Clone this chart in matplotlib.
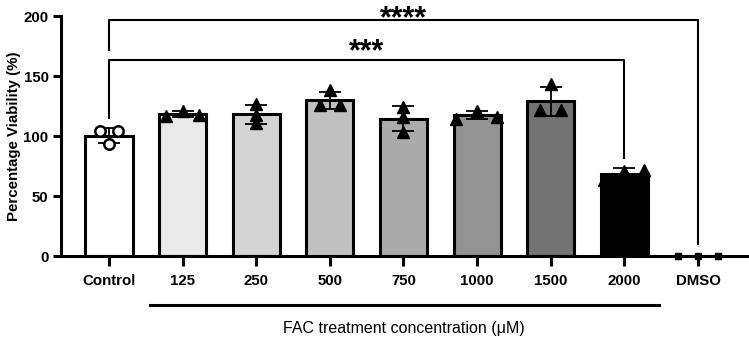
import numpy as np
import matplotlib
matplotlib.use("Agg")
import matplotlib.pyplot as plt

plt.rcParams["font.family"] = ["Liberation Sans", "DejaVu Sans"]

# groups and replicate values (% viability)
groups = ["Control", "125", "250", "500", "750", "1000", "1500", "2000", "DMSO"]
reps = [
    [104, 104, 93],
    [116.5, 121, 117.5],
    [126.5, 117.5, 110.5],
    [138, 125.5, 126],
    [124, 115.5, 103.6],
    [114.5, 121, 116],
    [143, 121.7, 122],
    [63, 70.5, 71.5],
    [0, 0, 0],
]
# horizontal scatter of replicate points within each bar
spread = [
    [-0.12, 0.12, 0],
    [-0.22, 0, 0.22],
    [0, 0, 0],
    [0, -0.14, 0.14],
    [0, 0, 0],
    [-0.28, 0, 0.27],
    [0, -0.14, 0.14],
    [-0.27, 0, 0.27],
    [-0.27, 0, 0.27],
]
fills = ["white", "#e9e9e9", "#d4d4d4", "#c0c0c0", "#ababab",
         "#939393", "#737373", "black", "white"]

# significance brackets: (left group, right group, height, left end, right end, label)
brackets = [
    (0, 8, 197, 172, 10, "****"),
    (0, 7, 163, 115, 82, "***"),
]
star_y = [191, 163.5]

x = np.arange(len(groups))
means = np.array([np.mean(r) for r in reps])
sds = np.array([np.std(r, ddof=1) for r in reps])

fig = plt.figure(figsize=(7.49, 3.38), dpi=100)
ax = fig.add_axes([61 / 749, 82 / 338, 687 / 749, 240 / 338])

ax.bar(x, means, width=0.64, color=fills, edgecolor="black",
       linewidth=2.2, zorder=2)
ax.errorbar(x, means, yerr=sds, fmt="none", ecolor="black",
            elinewidth=1.3, capsize=8, capthick=1.3, zorder=3)

for i, (r, dx) in enumerate(zip(reps, spread)):
    xs = x[i] + np.array(dx)
    if i == 0:
        ax.plot(xs, r, "o", ms=7.5, mfc="white", mec="black", mew=1.8,
                zorder=4, clip_on=False)
    elif groups[i] == "DMSO":
        ax.plot(xs, r, "s", ms=4.5, color="black", zorder=4, clip_on=False)
    else:
        ax.plot(xs, r, "^", ms=8.5, color="black", zorder=4, clip_on=False)

# brackets
for (a, b, h, lo_a, lo_b, lab), ty in zip(brackets, star_y):
    ax.plot([x[a], x[a], x[b], x[b]], [lo_a, h, h, lo_b],
            color="black", lw=1.5, clip_on=False, zorder=1)
    ax.text((x[a] + x[b]) / 2, ty, lab, ha="center", va="baseline",
            fontsize=22, fontweight="bold", clip_on=False)

# underline for FAC groups
ax.plot([0.557, 7.47], [-40.8, -40.8], color="black", lw=2.2, clip_on=False)
ax.text(4.01, -60, "FAC treatment concentration (\u03bcM)", ha="center",
        va="center", fontsize=11.5)

ax.set_xlim(-0.652, 8.68)
ax.set_ylim(0, 200)
ax.set_yticks([0, 50, 100, 150, 200])
ax.set_xticks(x)
ax.set_xticklabels(groups)
for lab in ax.get_xticklabels() + ax.get_yticklabels():
    lab.set_fontweight("bold")
    lab.set_fontsize(10.8)
ax.set_ylabel("Percentage Viability (%)", fontsize=10.8, fontweight="bold",
              labelpad=2)

for s in ["top", "right"]:
    ax.spines[s].set_visible(False)
for s in ["left", "bottom"]:
    ax.spines[s].set_linewidth(2.2)
ax.tick_params(axis="both", width=2.2, length=6, direction="out", pad=3)
ax.tick_params(axis="x", length=7, pad=6)

fig.savefig("out.png", dpi=100)
